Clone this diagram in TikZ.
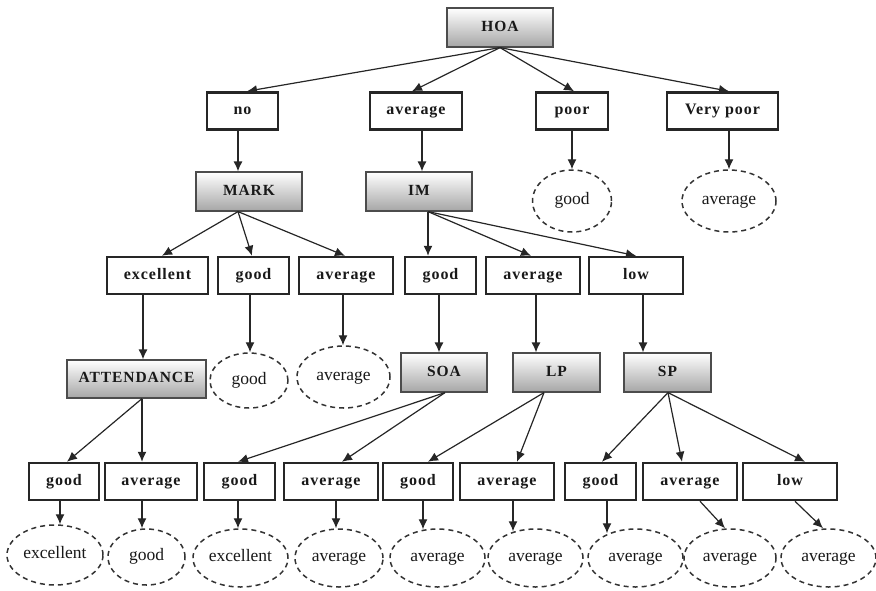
\documentclass[tikz,border=0pt]{standalone}
\usepackage{fontspec}
\setmainfont{Liberation Serif}
\newfontfamily\boxfont[LetterSpace=6]{Liberation Serif}
\usetikzlibrary{shapes.geometric,arrows.meta}

\tikzset{
  gbox/.style={draw=black!70, line width=1.2pt, top color=white, bottom color=black!35,
    font=\boxfont\fontsize{15.5}{17}\selectfont\bfseries, text=black!90,
    minimum height=39pt, inner sep=0pt, text height=10.5pt, text depth=3.5pt},
  wbox/.style={draw=black!85, line width=2.5pt, fill=white,
    font=\boxfont\fontsize{16}{18}\selectfont\bfseries, text=black!90,
    minimum height=37pt, inner sep=0pt, text height=10.5pt, text depth=3.5pt},
  leaf/.style={ellipse, draw=black!80, line width=1.5pt, dash pattern=on 5pt off 4pt,
    font=\fontsize{17.5}{19}\selectfont, text=black!90, inner sep=0pt,
    text height=11pt, text depth=4pt},
  arr/.style={-{Latex[length=10pt,width=9pt]}, line width=1.2pt, draw=black!85},
}

\begin{document}
\begin{tikzpicture}[x=1pt,y=-1pt]
\useasboundingbox (0,0) rectangle (876,590);

% root
\node[gbox, minimum width=106pt] (hoa) at (500,27.5) {HOA};

% first level
\node[wbox, minimum width=71pt]  (no)    at (242.5,111) {no};
\node[wbox, minimum width=92pt]  (avg1)  at (416,111)   {average};
\node[wbox, minimum width=72pt]  (poor)  at (572,111)   {poor};
\node[wbox, minimum width=111pt] (vpoor) at (722.5,111) {Very poor};

% second level
\node[gbox, minimum width=106pt] (mark) at (249,191.5) {MARK};
\node[gbox, minimum width=106pt] (im)   at (419,191.5) {IM};
\node[leaf, minimum width=79pt, minimum height=62pt] (leafPoor)  at (572,201) {good};
\node[leaf, minimum width=94pt, minimum height=62pt] (leafVpoor) at (729,201) {average};

% third level
\node[wbox, minimum width=101pt] (exc)   at (157.5,275.5) {excellent};
\node[wbox, minimum width=71pt]  (mgood) at (253.5,275.5) {good};
\node[wbox, minimum width=94pt]  (mavg)  at (346,275.5)   {average};
\node[wbox, minimum width=71pt]  (igood) at (440.5,275.5) {good};
\node[wbox, minimum width=94pt]  (iavg)  at (533,275.5)   {average};
\node[wbox, minimum width=94pt]  (ilow)  at (636,275.5)   {low};

% fourth level
\node[gbox, minimum width=139pt, minimum height=38pt] (att) at (136.5,379) {ATTENDANCE};
\node[leaf, minimum width=78pt, minimum height=55pt] (leafMg) at (249,380.5) {good};
\node[leaf, minimum width=93pt, minimum height=62pt] (leafMa) at (343.5,377) {average};
\node[gbox, minimum width=86pt] (soa) at (444,372.5)   {SOA};
\node[gbox, minimum width=87pt] (lp)  at (556.5,372.5) {LP};
\node[gbox, minimum width=87pt] (sp)  at (667.5,372.5) {SP};

% fifth level
\node[wbox, minimum width=70pt] (ag) at (64,481.5)    {good};
\node[wbox, minimum width=92pt] (aa) at (151,481.5)   {average};
\node[wbox, minimum width=71pt] (sg) at (239.5,481.5) {good};
\node[wbox, minimum width=94pt] (sa) at (331,481.5)   {average};
\node[wbox, minimum width=70pt] (lg) at (418,481.5)   {good};
\node[wbox, minimum width=94pt] (la) at (507,481.5)   {average};
\node[wbox, minimum width=71pt] (pg) at (600.5,481.5) {good};
\node[wbox, minimum width=94pt] (pa) at (690,481.5)   {average};
\node[wbox, minimum width=94pt] (pl) at (790,481.5)   {low};

% leaves
\node[leaf, minimum width=96pt, minimum height=60pt] (e1) at (55,555)    {excellent};
\node[leaf, minimum width=77pt, minimum height=56pt] (e2) at (146.5,557) {good};
\node[leaf, minimum width=95pt, minimum height=58pt] (e3) at (240.5,558) {excellent};
\node[leaf, minimum width=88pt, minimum height=58pt] (e4) at (339,558)   {average};
\node[leaf, minimum width=95pt, minimum height=58pt] (e5) at (437.5,558) {average};
\node[leaf, minimum width=95pt, minimum height=58pt] (e6) at (535.5,558) {average};
\node[leaf, minimum width=95pt, minimum height=58pt] (e7) at (635.5,558) {average};
\node[leaf, minimum width=92pt, minimum height=58pt] (e8) at (730,558)   {average};
\node[leaf, minimum width=95pt, minimum height=58pt] (e9) at (828.5,558) {average};

% connectors
\draw[arr] (hoa.south) -- ([xshift=4.5pt]no.north);
\draw[arr] (hoa.south) -- ([xshift=-4pt]avg1.north);
\draw[arr] (hoa.south) -- ([xshift=2pt]poor.north);
\draw[arr] (hoa.south) -- ([xshift=6.5pt]vpoor.north);

\draw[arr] ([xshift=-4.5pt]no.south) -- ([xshift=-11pt]mark.north);
\draw[arr] ([xshift=6pt]avg1.south) -- ([xshift=3pt]im.north);
\draw[arr] (poor.south) -- (leafPoor.north);
\draw[arr] ([xshift=6.5pt]vpoor.south) -- (leafVpoor.north);

\draw[arr] ([xshift=-11pt]mark.south) -- ([xshift=4.5pt]exc.north);
\draw[arr] ([xshift=-11pt]mark.south) -- ([xshift=-1.5pt]mgood.north);
\draw[arr] ([xshift=-11pt]mark.south) -- ([xshift=-1pt]mavg.north);
\draw[arr] ([xshift=9pt]im.south) -- ([xshift=-12.5pt]igood.north);
\draw[arr] ([xshift=9pt]im.south) -- ([xshift=-2pt]iavg.north);
\draw[arr] ([xshift=9pt]im.south) -- (ilow.north);

\draw[arr] ([xshift=-14.5pt]exc.south) -- ([xshift=6.5pt]att.north);
\draw[arr] ([xshift=-3.5pt]mgood.south) -- ([xshift=1pt]leafMg.north);
\draw[arr] ([xshift=-3pt]mavg.south) -- ([xshift=-0.5pt]leafMa.north);
\draw[arr] ([xshift=-1.5pt]igood.south) -- ([xshift=-5pt]soa.north);
\draw[arr] ([xshift=3pt]iavg.south) -- ([xshift=-20.5pt]lp.north);
\draw[arr] ([xshift=7pt]ilow.south) -- ([xshift=-24.5pt]sp.north);

\draw[arr] ([xshift=5.5pt]att.south) -- ([xshift=3pt]ag.north);
\draw[arr] ([xshift=5.5pt]att.south) -- ([xshift=-9pt]aa.north);
\draw[arr] ([xshift=1pt]soa.south) -- ([xshift=-1.5pt]sg.north);
\draw[arr] ([xshift=1pt]soa.south) -- ([xshift=11pt]sa.north);
\draw[arr] ([xshift=-12.5pt]lp.south) -- ([xshift=10pt]lg.north);
\draw[arr] ([xshift=-12.5pt]lp.south) -- ([xshift=10pt]la.north);
\draw[arr] ([xshift=0.5pt]sp.south) -- ([xshift=1.5pt]pg.north);
\draw[arr] ([xshift=0.5pt]sp.south) -- ([xshift=-8pt]pa.north);
\draw[arr] ([xshift=0.5pt]sp.south) -- ([xshift=15pt]pl.north);

\draw[arr] ([xshift=-4pt]ag.south) -- ([xshift=5pt]e1.north);
\draw[arr] ([xshift=-9pt]aa.south) -- ([xshift=-4.5pt]e2.north);
\draw[arr] ([xshift=-1.5pt]sg.south) -- ([xshift=-2.5pt]e3.north);
\draw[arr] ([xshift=5pt]sa.south) -- ([xshift=-3pt]e4.north);
\draw[arr] ([xshift=5pt]lg.south) -- ([xshift=-14.5pt,yshift=-1pt]e5.north);
\draw[arr] ([xshift=6pt]la.south) -- ([xshift=-22.5pt,yshift=-3pt]e6.north);
\draw[arr] ([xshift=6.5pt]pg.south) -- ([xshift=-28.5pt,yshift=-5pt]e7.north);
\draw[arr] ([xshift=10pt]pa.south) -- ([xshift=-5pt]e8.north);
\draw[arr] ([xshift=5pt]pl.south) -- ([xshift=-5.5pt]e9.north);
\end{tikzpicture}
\end{document}
